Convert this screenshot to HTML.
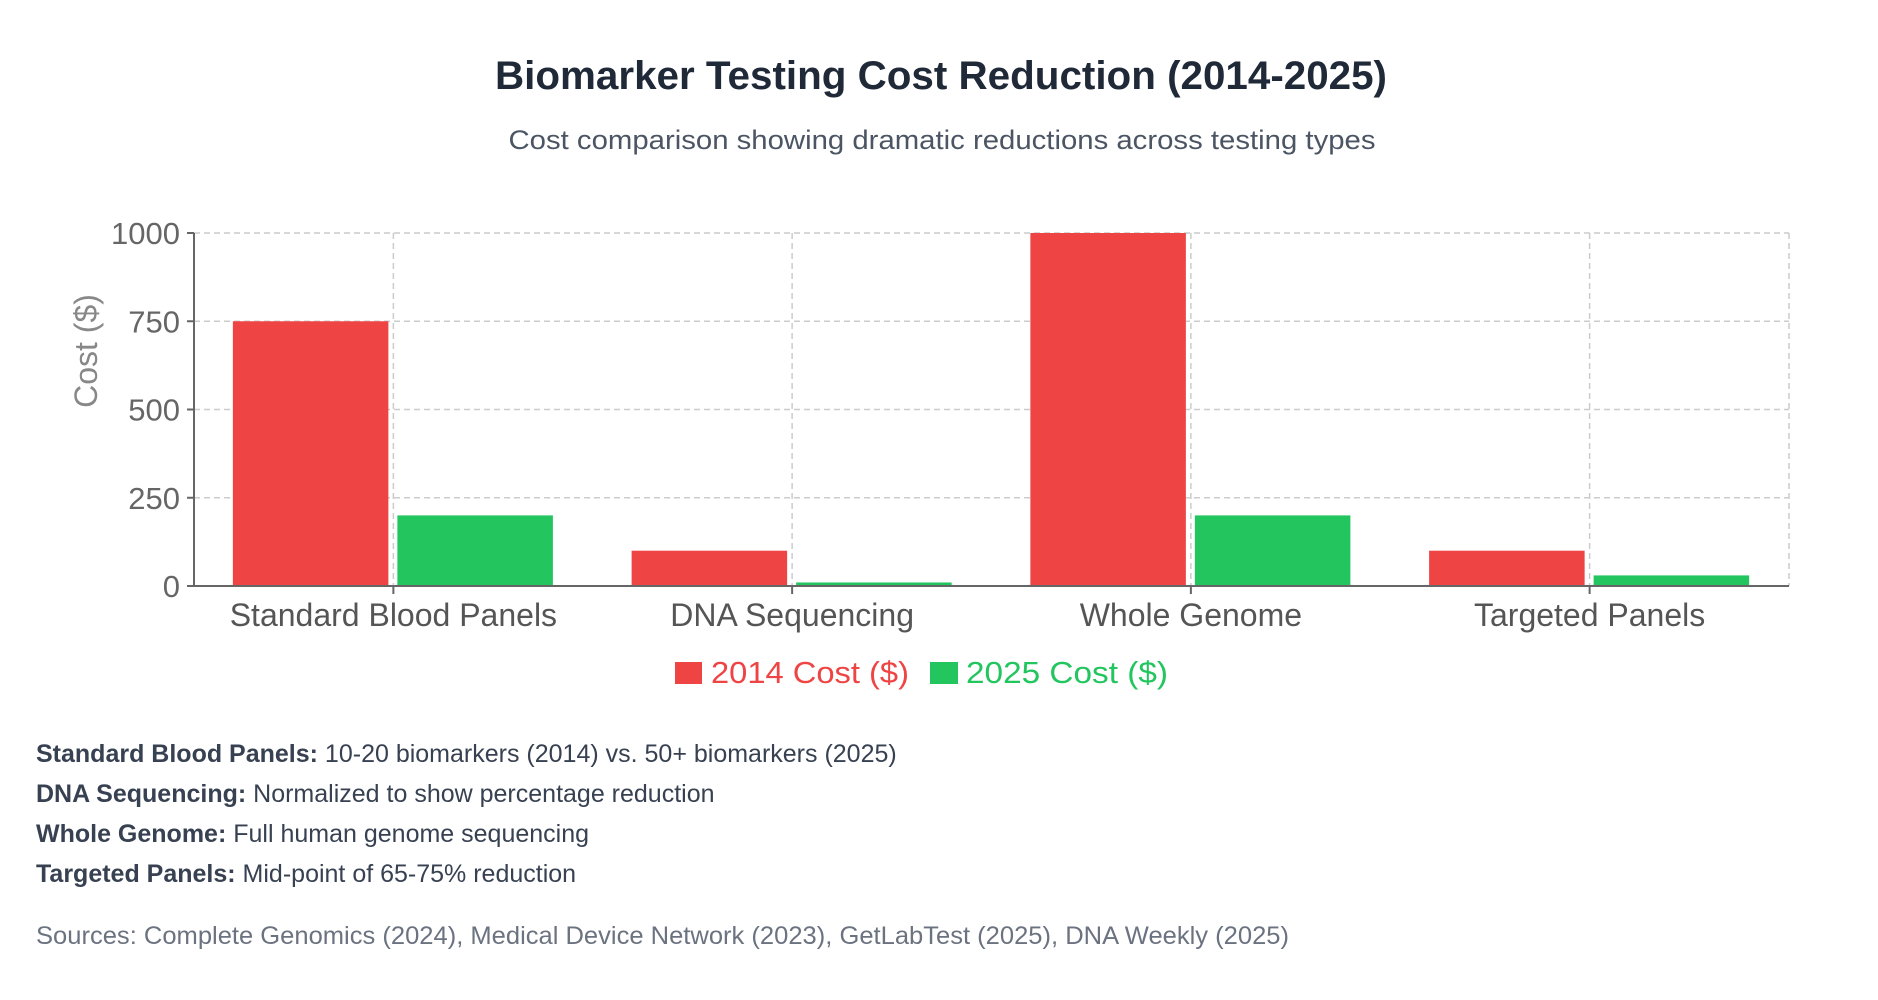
<!DOCTYPE html>
<html><head><meta charset="utf-8"><style>
html,body{margin:0;padding:0;background:#fff;width:1878px;height:1000px;overflow:hidden}
text{font-family:"Liberation Sans",sans-serif}
</style></head><body>
<svg id="chart" width="1878" height="1000" xmlns="http://www.w3.org/2000/svg">
<text x="941" y="89" text-anchor="middle" font-size="40" font-weight="bold" fill="#1f2937" textLength="892" lengthAdjust="spacingAndGlyphs">Biomarker Testing Cost Reduction (2014-2025)</text>
<text x="942" y="149" text-anchor="middle" font-size="27" fill="#4b5563" textLength="867" lengthAdjust="spacingAndGlyphs">Cost comparison showing dramatic reductions across testing types</text>
<g id="grid"></g>
<g id="bars"></g>
<g id="axes"></g>
<text transform="translate(97,351) rotate(-90)" text-anchor="middle" font-size="32" fill="#888">Cost ($)</text>
<g>
<rect x="675" y="662" width="27" height="22" fill="#ef4444"/>
<text x="711" y="683" font-size="31" fill="#ef4444" textLength="198" lengthAdjust="spacingAndGlyphs">2014 Cost ($)</text>
<rect x="930" y="662" width="28" height="22" fill="#22c55e"/>
<text x="966" y="683" font-size="31" fill="#22c55e" textLength="202" lengthAdjust="spacingAndGlyphs">2025 Cost ($)</text>
</g>
<g font-size="25" fill="#374151">
<text x="36" y="762"><tspan font-weight="bold">Standard Blood Panels:</tspan> 10-20 biomarkers (2014) vs. 50+ biomarkers (2025)</text>
<text x="36" y="802"><tspan font-weight="bold">DNA Sequencing:</tspan> Normalized to show percentage reduction</text>
<text x="36" y="842"><tspan font-weight="bold">Whole Genome:</tspan> Full human genome sequencing</text>
<text x="36" y="882"><tspan font-weight="bold">Targeted Panels:</tspan> Mid-point of 65-75% reduction</text>
</g>
<text x="36" y="944" font-size="25" fill="#6b7280" textLength="1253" lengthAdjust="spacingAndGlyphs">Sources: Complete Genomics (2024), Medical Device Network (2023), GetLabTest (2025), DNA Weekly (2025)</text>
</svg>
<script>
const categories = ["Standard Blood Panels", "DNA Sequencing", "Whole Genome", "Targeted Panels"];
const cost2014 = [750, 100, 1000, 100];
const cost2025 = [200, 10, 200, 30];
const yTicks = [0, 250, 500, 750, 1000];

const NS = "http://www.w3.org/2000/svg";
const L = 194, R = 1789, T = 233, B = 586, yMax = 1000;
const band = (R - L) / categories.length;
const y = v => B - (v / yMax) * (B - T);
const xc = i => L + band * (i + 0.5);
function mk(tag, attrs, parent) {
  const e = document.createElementNS(NS, tag);
  for (const k in attrs) e.setAttribute(k, attrs[k]);
  parent.appendChild(e);
  return e;
}
const grid = document.getElementById("grid"), bars = document.getElementById("bars"), axes = document.getElementById("axes");
yTicks.forEach(t => {
  if (t > 0) {
    const gl = mk("line", {x1: L, x2: R, y1: y(t), y2: y(t), stroke: "#ccc", "stroke-width": 1.5, "stroke-dasharray": "6,4"}, grid);
    
    
  }
  const tk = mk("line", {x1: L - 7, x2: L, y1: y(t), y2: y(t), stroke: "#666", "stroke-width": 2}, axes);
  
  
  const tl = mk("text", {x: L - 14, y: y(t) + 11, "text-anchor": "end", "font-size": 31, fill: "#666"}, axes);
  tl.textContent = t;
  
  
});
categories.forEach((c, i) => {
  const gx = mk("line", {x1: xc(i), x2: xc(i), y1: T, y2: B, stroke: "#ccc", "stroke-width": 1.5, "stroke-dasharray": "6,4"}, grid);
  
  
  const bw = band * 0.39;
  const r1 = mk("rect", {x: xc(i) - 5 - bw, y: y(cost2014[i]), width: bw, height: B - y(cost2014[i]), fill: "#ef4444"}, bars);
  
  
  const r2 = mk("rect", {x: xc(i) + 4, y: y(cost2025[i]), width: bw, height: B - y(cost2025[i]), fill: "#22c55e"}, bars);
  
  
  const tk = mk("line", {x1: xc(i), x2: xc(i), y1: B, y2: B + 8, stroke: "#666", "stroke-width": 2}, axes);
  
  
  const lb = mk("text", {x: xc(i), y: B + 40, "text-anchor": "middle", "font-size": 32, fill: "#555"}, axes);
  lb.textContent = c;
  
  
});
mk("line", {x1: R, x2: R, y1: T, y2: B, stroke: "#ccc", "stroke-width": 1.5, "stroke-dasharray": "6,4"}, grid);
const ya = mk("line", {x1: L, x2: L, y1: T, y2: B, stroke: "#666", "stroke-width": 2}, axes);


const xa = mk("line", {x1: L, x2: R, y1: B, y2: B, stroke: "#666", "stroke-width": 2}, axes);


</script>
</body></html>
